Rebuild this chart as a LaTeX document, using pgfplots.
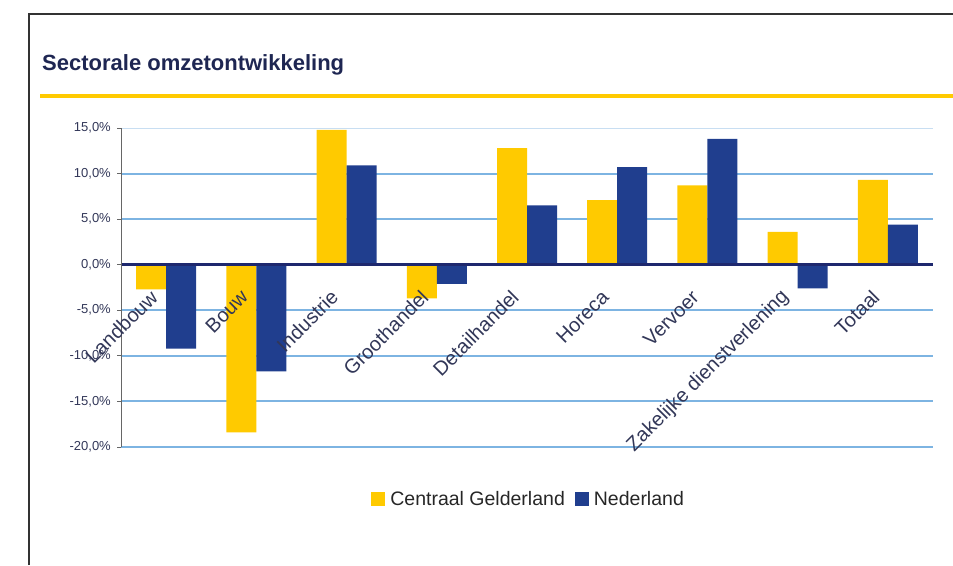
\documentclass[border=0pt]{standalone}
\usepackage{pgfplots}
\pgfplotsset{compat=1.18}
\usepackage{fontspec}
\setmainfont{Liberation Sans}
\definecolor{cgyellow}{RGB}{255,202,0}
\definecolor{nlblue}{RGB}{32,62,142}
\definecolor{gridblue}{RGB}{125,180,226}
\definecolor{gridlight}{RGB}{200,222,242}
\definecolor{zeronavy}{RGB}{30,40,110}
\definecolor{titlenavy}{RGB}{30,38,82}
\definecolor{labelgray}{RGB}{50,55,88}
\begin{document}
\begin{tikzpicture}[x=1pt,y=1pt]
\useasboundingbox (0,0) rectangle (953,-565);
\draw[line width=1.2pt, black!80] (29,-565) -- (29,-14) -- (953,-14);
\node[anchor=base west, inner sep=0pt, font=\fontsize{22}{26}\selectfont\bfseries, text=titlenavy] at (42,-70) {Sectorale omzetontwikkeling};
\draw[line width=4pt, cgyellow] (40,-96) -- (953,-96);
\begin{axis}[
  axis on top,
  at={(121pt,-447pt)}, anchor=south west,
  scale only axis, width=812pt, height=319pt,
  xmin=-0.5, xmax=8.5, ymin=-20, ymax=15,
  axis x line*=middle, axis y line*=left,
  x axis line style={draw=zeronavy, line width=2.5pt},
  y axis line style={draw=black!60, line width=1pt},
  ybar=0pt, bar width=30pt,
  xtick={0,1,2,3,4,5,6,7,8},
  xticklabels={Landbouw,Bouw,Industrie,Groothandel,Detailhandel,Horeca,Vervoer,Zakelijke dienstverlening,Totaal},
  x tick style={draw=none},
  xticklabel style={font=\fontsize{20}{24}\selectfont, text=labelgray, inner sep=0pt, xshift=-12pt, yshift=-25pt, rotate=45, anchor=east},
  extra x ticks={-0.5,0.5,1.5,2.5,3.5,4.5,5.5,6.5,7.5,8.5},
  extra x tick labels={},
  extra x tick style={tick align=outside, major tick length=7pt, tick style={draw=zeronavy, line width=1.5pt}},
  ytick={-20,-15,-10,-5,0,5,10,15},
  yticklabels={{-20,0\%},{-15,0\%},{-10,0\%},{-5,0\%},{0,0\%},{5,0\%},{10,0\%},{15,0\%}},
  yticklabel style={font=\fontsize{13}{15}\selectfont, text=labelgray, inner sep=0pt, xshift=-6pt},
  y tick style={draw=black!60, line width=0.8pt},
  tick align=outside, major tick length=4pt,
  legend style={at={(0.502,-0.163)}, anchor=center, draw=none, fill=none, legend columns=2,
    font=\fontsize{19.5}{23}\selectfont, text=black!85,
    /tikz/every odd column/.append style={column sep=3pt},
    /tikz/every even column/.append style={column sep=8pt}},
  legend image code/.code={\fill[#1] (0pt,-7pt) rectangle (14pt,7pt);},
]
\draw[gridblue, line width=2pt] (axis cs:-0.5,-20) -- (axis cs:8.5,-20);
\draw[gridblue, line width=2pt] (axis cs:-0.5,-15) -- (axis cs:8.5,-15);
\draw[gridblue, line width=2pt] (axis cs:-0.5,-10) -- (axis cs:8.5,-10);
\draw[gridblue, line width=2pt] (axis cs:-0.5,-5) -- (axis cs:8.5,-5);
\draw[gridblue, line width=2pt] (axis cs:-0.5,5) -- (axis cs:8.5,5);
\draw[gridblue, line width=2pt] (axis cs:-0.5,10) -- (axis cs:8.5,10);
\draw[gridlight, line width=2pt] (axis cs:-0.5,15) -- (axis cs:8.5,15);
\addplot[fill=cgyellow, draw=none] coordinates {(0,-2.7) (1,-18.4) (2,14.8) (3,-3.7) (4,12.8) (5,7.1) (6,8.7) (7,3.6) (8,9.3)};
\addplot[fill=nlblue, draw=none] coordinates {(0,-9.2) (1,-11.7) (2,10.9) (3,-2.1) (4,6.5) (5,10.7) (6,13.8) (7,-2.6) (8,4.4)};
\legend{Centraal Gelderland, Nederland}
\end{axis}
\end{tikzpicture}
\end{document}
